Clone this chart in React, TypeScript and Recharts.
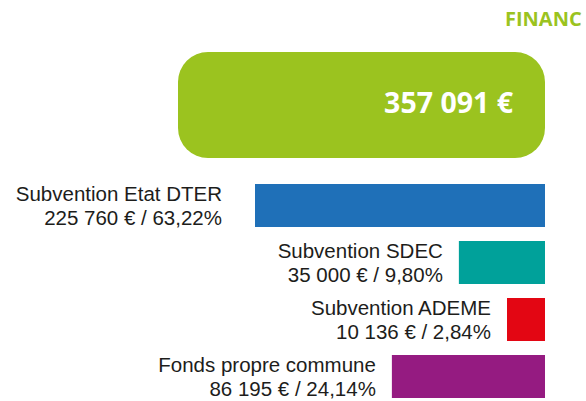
import React from 'react';
import { BarChart, Bar, XAxis, YAxis, Cell, LabelList } from 'recharts';

// Données du plan de financement
const title = 'FINANC';
const total = '357 091 €';
const sources = ['Subvention Etat DTER', 'Subvention SDEC', 'Subvention ADEME', 'Fonds propre commune'];
const amounts = ['225 760 €', '35 000 €', '10 136 €', '86 195 €'];
const percents = ['63,22%', '9,80%', '2,84%', '24,14%'];
// longueur des barres telle que dessinée (en % de la plus longue)
const barLength = [100, 29.7, 13.1, 52.8];
const colors = ['#1F70B8', '#00A19A', '#E30613', '#951B81'];

const GREEN = '#9BC31F';
const FONT = '"Open Sans", "Noto Sans", sans-serif';
const LABEL_FONT = '"Liberation Sans", Arial, sans-serif';

const data = sources.map((name, i) => ({
  name,
  value: barLength[i],
  amount: amounts[i],
  percent: percents[i],
}));

const renderLabel = (props: any) => {
  const { x, y, width, height, index } = props;
  const left = Math.min(x, x + width);
  const cy = y + height / 2;
  // le premier libellé est un peu plus écarté de sa barre
  const gap = index === 0 ? 33 : 16;
  const tx = left - gap;
  return (
    <text x={tx} y={cy - 4.5} textAnchor="end" fontSize={20.5} fill="#1d1d1b" fontFamily={LABEL_FONT}>
      <tspan x={tx}>{data[index].name}</tspan>
      <tspan x={tx} dy={24}>{`${data[index].amount} / ${data[index].percent}`}</tspan>
    </text>
  );
};

export default function App() {
  return (
    <div style={{ position: 'absolute', left: 0, top: 0, width: 586, height: 401, overflow: 'hidden', background: '#fff', fontFamily: FONT }}>
      <div style={{ position: 'absolute', left: 505, top: 6, fontSize: 20, fontWeight: 700, color: GREEN, whiteSpace: 'nowrap', lineHeight: '26px' }}>
        {title}
      </div>
      <div style={{ position: 'absolute', left: 178, top: 52, width: 367, height: 106, borderRadius: 30, background: GREEN }}>
        <div style={{ position: 'absolute', right: 32, top: 33, fontSize: 28.5, fontWeight: 700, color: '#fff', lineHeight: '34px' }}>
          {total}
        </div>
      </div>
      <div style={{ position: 'absolute', left: 0, top: 177 }}>
        <BarChart
          width={586}
          height={224}
          data={data}
          layout="vertical"
          margin={{ top: 0, right: 41, bottom: -4, left: 255 }}
        >
          <XAxis type="number" domain={[0, 100]} reversed hide />
          <YAxis type="category" dataKey="name" hide />
          <Bar dataKey="value" barSize={43} isAnimationActive={false}>
            {data.map((entry, index) => (
              <Cell key={`cell-${index}`} fill={colors[index]} />
            ))}
            <LabelList dataKey="value" content={renderLabel} />
          </Bar>
        </BarChart>
      </div>
    </div>
  );
}
